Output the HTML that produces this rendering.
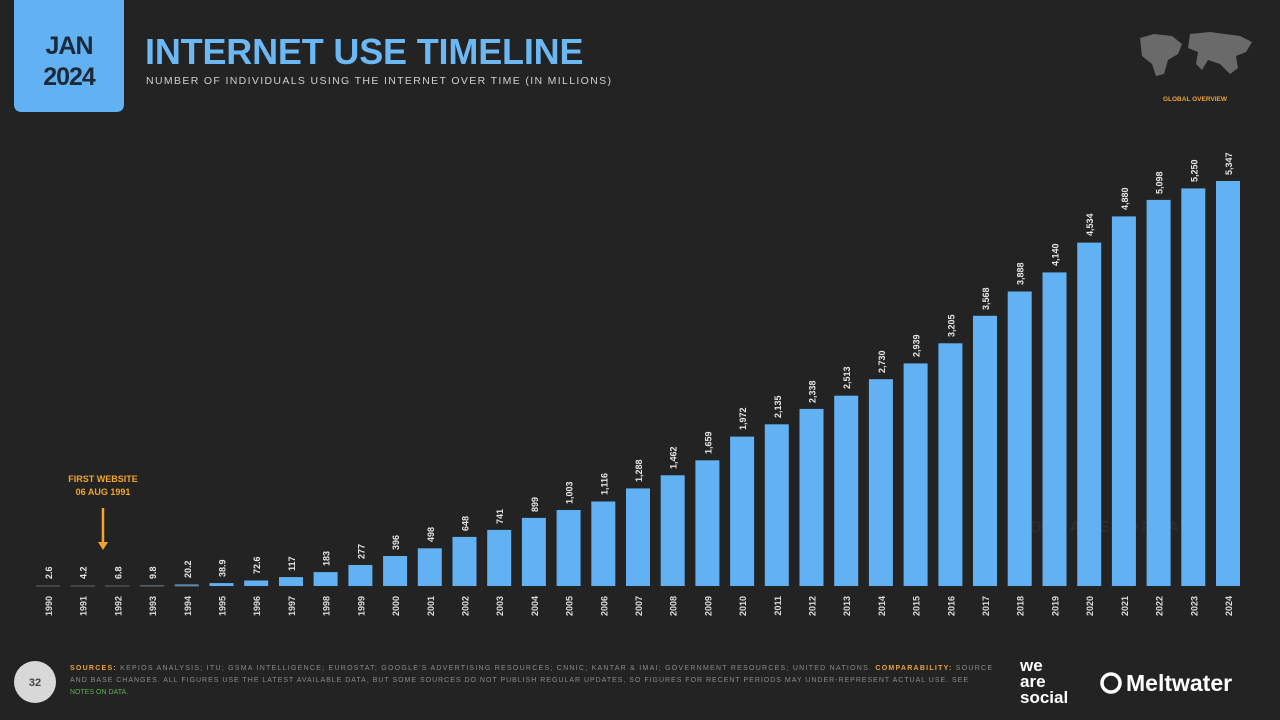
<!DOCTYPE html>
<html><head><meta charset="utf-8"><style>
body{margin:0;background:#222;}
svg{display:block}
text{font-family:"Liberation Sans",sans-serif;}
</style></head><body>
<svg width="1280" height="720" viewBox="0 0 1280 720">
<rect width="1280" height="720" fill="#232323"/>
<path d="M14 0H124V104Q124 112 116 112H22Q14 112 14 104Z" fill="#62b1f3"/>
<text x="69" y="54" text-anchor="middle" font-size="25" font-weight="bold" fill="#1b2a3a" letter-spacing="-1">JAN</text>
<text x="69" y="85" text-anchor="middle" font-size="25" font-weight="bold" fill="#1b2a3a" letter-spacing="-1">2024</text>
<text x="145" y="64" font-size="36" font-weight="bold" fill="#6cb8f5" letter-spacing="-0.5" textLength="438">INTERNET USE TIMELINE</text>
<text x="146" y="84" font-size="10.5" fill="#cfcfcf" textLength="465">NUMBER OF INDIVIDUALS USING THE INTERNET OVER TIME (IN MILLIONS)</text>
<path d="M1140 38l14-4 18 2 10 8-4 10-10 6-4 14-8 2-4-12-10-8zM1190 34l20-2 30 4 12 6-6 10-10 4 2 12-8 6-10-10-12-4-6 10-6-6 2-12-10-4z" fill="#6a6a6a"/>
<text x="1195" y="101" text-anchor="middle" font-size="6.5" font-weight="bold" fill="#e8a23a">GLOBAL OVERVIEW</text>
<text x="1030" y="532" font-size="16" font-weight="bold" fill="#2c2c2c" textLength="162">DATAREPORTAL</text>
<g fill="#62b1f3">
<rect x="36" y="585.8" width="24" height="0.4"/><rect x="70.7" y="585.7" width="24" height="0.4"/><rect x="105.4" y="585.5" width="24" height="0.6"/><rect x="140.1" y="585.3" width="24" height="0.7"/><rect x="174.8" y="584.5" width="24" height="1.5"/><rect x="209.5" y="583.1" width="24" height="2.9"/><rect x="244.2" y="580.5" width="24" height="5.5"/><rect x="279" y="577.1" width="24" height="8.9"/><rect x="313.6" y="572.1" width="24" height="13.9"/><rect x="348.4" y="565" width="24" height="21"/><rect x="383.1" y="556" width="24" height="30"/><rect x="417.8" y="548.3" width="24" height="37.7"/><rect x="452.5" y="536.9" width="24" height="49.1"/><rect x="487.2" y="529.9" width="24" height="56.1"/><rect x="521.9" y="517.9" width="24" height="68.1"/><rect x="556.6" y="510" width="24" height="76"/><rect x="591.3" y="501.5" width="24" height="84.5"/><rect x="626" y="488.4" width="24" height="97.6"/><rect x="660.7" y="475.3" width="24" height="110.7"/><rect x="695.4" y="460.3" width="24" height="125.7"/><rect x="730.1" y="436.6" width="24" height="149.4"/><rect x="764.8" y="424.3" width="24" height="161.7"/><rect x="799.5" y="408.9" width="24" height="177.1"/><rect x="834.2" y="395.7" width="24" height="190.3"/><rect x="868.9" y="379.2" width="24" height="206.8"/><rect x="903.6" y="363.4" width="24" height="222.6"/><rect x="938.4" y="343.3" width="24" height="242.7"/><rect x="973" y="315.8" width="24" height="270.2"/><rect x="1007.7" y="291.5" width="24" height="294.5"/><rect x="1042.5" y="272.4" width="24" height="313.6"/><rect x="1077.2" y="242.6" width="24" height="343.4"/><rect x="1111.9" y="216.4" width="24" height="369.6"/><rect x="1146.6" y="199.9" width="24" height="386.1"/><rect x="1181.3" y="188.4" width="24" height="397.6"/><rect x="1216" y="181" width="24" height="405"/>
</g>
<g stroke="#666" stroke-width="1"><line x1="36" y1="586" x2="60" y2="586"/><line x1="71" y1="586" x2="95" y2="586"/><line x1="105" y1="586" x2="129" y2="586"/><line x1="140" y1="586" x2="164" y2="586"/><line x1="175" y1="586" x2="199" y2="586"/></g>
<g font-size="9" font-weight="bold" fill="#e6e6e6">
<text transform="translate(52,579) rotate(-90)">2.6</text>
<text transform="translate(86.7,579) rotate(-90)">4.2</text>
<text transform="translate(121.4,579) rotate(-90)">6.8</text>
<text transform="translate(156.1,579) rotate(-90)">9.8</text>
<text transform="translate(190.8,578) rotate(-90)">20.2</text>
<text transform="translate(225.5,577) rotate(-90)">38.9</text>
<text transform="translate(260.2,574) rotate(-90)">72.6</text>
<text transform="translate(295,571) rotate(-90)">117</text>
<text transform="translate(329.6,566) rotate(-90)">183</text>
<text transform="translate(364.4,559) rotate(-90)">277</text>
<text transform="translate(399.1,550) rotate(-90)">396</text>
<text transform="translate(433.8,542) rotate(-90)">498</text>
<text transform="translate(468.5,531) rotate(-90)">648</text>
<text transform="translate(503.2,524) rotate(-90)">741</text>
<text transform="translate(537.9,512) rotate(-90)">899</text>
<text transform="translate(572.6,504) rotate(-90)">1,003</text>
<text transform="translate(607.3,495) rotate(-90)">1,116</text>
<text transform="translate(642,482) rotate(-90)">1,288</text>
<text transform="translate(676.7,469) rotate(-90)">1,462</text>
<text transform="translate(711.4,454) rotate(-90)">1,659</text>
<text transform="translate(746.1,430) rotate(-90)">1,972</text>
<text transform="translate(780.8,418) rotate(-90)">2,135</text>
<text transform="translate(815.5,403) rotate(-90)">2,338</text>
<text transform="translate(850.2,389) rotate(-90)">2,513</text>
<text transform="translate(884.9,373) rotate(-90)">2,730</text>
<text transform="translate(919.6,357) rotate(-90)">2,939</text>
<text transform="translate(954.4,337) rotate(-90)">3,205</text>
<text transform="translate(989,310) rotate(-90)">3,568</text>
<text transform="translate(1023.7,285) rotate(-90)">3,888</text>
<text transform="translate(1058.5,266) rotate(-90)">4,140</text>
<text transform="translate(1093.2,236) rotate(-90)">4,534</text>
<text transform="translate(1127.9,210) rotate(-90)">4,880</text>
<text transform="translate(1162.6,194) rotate(-90)">5,098</text>
<text transform="translate(1197.3,182) rotate(-90)">5,250</text>
<text transform="translate(1232,175) rotate(-90)">5,347</text>
</g>
<g font-size="9" font-weight="bold" fill="#dcdcdc" text-anchor="end">
<text transform="translate(52,596) rotate(-90)">1990</text><text transform="translate(86.7,596) rotate(-90)">1991</text><text transform="translate(121.4,596) rotate(-90)">1992</text><text transform="translate(156.1,596) rotate(-90)">1993</text><text transform="translate(190.8,596) rotate(-90)">1994</text><text transform="translate(225.5,596) rotate(-90)">1995</text><text transform="translate(260.2,596) rotate(-90)">1996</text><text transform="translate(295,596) rotate(-90)">1997</text><text transform="translate(329.6,596) rotate(-90)">1998</text><text transform="translate(364.4,596) rotate(-90)">1999</text><text transform="translate(399.1,596) rotate(-90)">2000</text><text transform="translate(433.8,596) rotate(-90)">2001</text><text transform="translate(468.5,596) rotate(-90)">2002</text><text transform="translate(503.2,596) rotate(-90)">2003</text><text transform="translate(537.9,596) rotate(-90)">2004</text><text transform="translate(572.6,596) rotate(-90)">2005</text><text transform="translate(607.3,596) rotate(-90)">2006</text><text transform="translate(642,596) rotate(-90)">2007</text><text transform="translate(676.7,596) rotate(-90)">2008</text><text transform="translate(711.4,596) rotate(-90)">2009</text><text transform="translate(746.1,596) rotate(-90)">2010</text><text transform="translate(780.8,596) rotate(-90)">2011</text><text transform="translate(815.5,596) rotate(-90)">2012</text><text transform="translate(850.2,596) rotate(-90)">2013</text><text transform="translate(884.9,596) rotate(-90)">2014</text><text transform="translate(919.6,596) rotate(-90)">2015</text><text transform="translate(954.4,596) rotate(-90)">2016</text><text transform="translate(989,596) rotate(-90)">2017</text><text transform="translate(1023.7,596) rotate(-90)">2018</text><text transform="translate(1058.5,596) rotate(-90)">2019</text><text transform="translate(1093.2,596) rotate(-90)">2020</text><text transform="translate(1127.9,596) rotate(-90)">2021</text><text transform="translate(1162.6,596) rotate(-90)">2022</text><text transform="translate(1197.3,596) rotate(-90)">2023</text><text transform="translate(1232,596) rotate(-90)">2024</text>
</g>
<text x="103" y="482" text-anchor="middle" font-size="9" font-weight="bold" fill="#f2a526">FIRST WEBSITE</text>
<text x="103" y="495" text-anchor="middle" font-size="9" font-weight="bold" fill="#f2a526">06 AUG 1991</text>
<line x1="103" y1="508" x2="103" y2="544" stroke="#f2a526" stroke-width="2.5"/>
<path d="M98 542L103 550L108 542Z" fill="#f2a526"/>
<circle cx="35" cy="682" r="21" fill="#d8d8d8"/>
<text x="35" y="686" text-anchor="middle" font-size="11" font-weight="bold" fill="#444">32</text>
<g font-size="7" fill="#8a8a8a">
<text x="70" y="670" textLength="922"><tspan fill="#e8a23a" font-weight="bold">SOURCES:</tspan> KEPIOS ANALYSIS; ITU; GSMA INTELLIGENCE; EUROSTAT; GOOGLE'S ADVERTISING RESOURCES; CNNIC; KANTAR &amp; IMAI; GOVERNMENT RESOURCES; UNITED NATIONS. <tspan fill="#e8a23a" font-weight="bold">COMPARABILITY:</tspan> SOURCE</text>
<text x="70" y="682" textLength="898">AND BASE CHANGES. ALL FIGURES USE THE LATEST AVAILABLE DATA, BUT SOME SOURCES DO NOT PUBLISH REGULAR UPDATES, SO FIGURES FOR RECENT PERIODS MAY UNDER-REPRESENT ACTUAL USE. SEE</text>
<text x="70" y="694" fill="#5fae55">NOTES ON DATA.</text>
</g>
<g font-size="17" font-weight="bold" fill="#fff">
<text x="1020" y="671">we</text><text x="1020" y="687">are</text><text x="1020" y="703">social</text>
</g>
<circle cx="1111" cy="683" r="9" fill="none" stroke="#fff" stroke-width="3.5"/>
<text x="1126" y="691" font-size="23" font-weight="600" fill="#fff">Meltwater</text>
</svg>
</body></html>
